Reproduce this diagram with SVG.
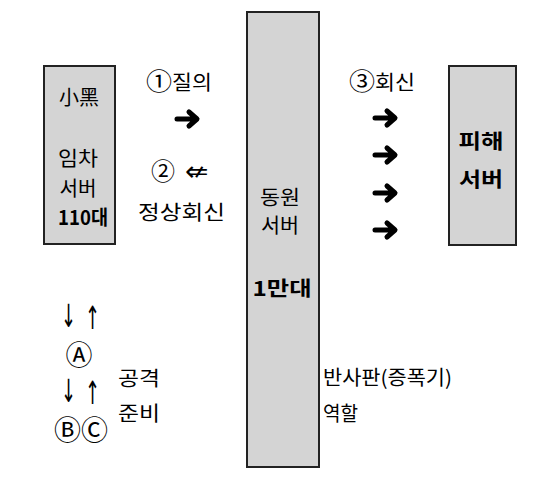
<svg xmlns="http://www.w3.org/2000/svg" width="553" height="486" viewBox="0 0 553 486">
<style>
.box{fill:#d4d4d4;stroke:#222;stroke-width:2}
.t{font-family:"Noto Sans CJK KR","DejaVu Sans",sans-serif;font-size:20px;fill:#000}
.b{font-family:"Noto Sans CJK KR","DejaVu Sans",sans-serif;font-size:20px;font-weight:bold;fill:#000}
.n{font-size:24px}
.s{font-family:"DejaVu Sans",sans-serif;font-size:28px;fill:#000}
.v{font-family:"DejaVu Sans",sans-serif;font-size:20px;fill:#000}
.o{font-family:"Noto Sans CJK KR",sans-serif;font-size:27px;fill:#000}
.c{text-anchor:middle}
.ha{fill:none;stroke:#000;stroke-width:5;stroke-linecap:round;stroke-linejoin:round}
</style>
<defs>
<path id="harrow" class="ha" d="M0,0 H19 M12,-7 L20,0 L12,7"/>
</defs>
<rect width="553" height="486" fill="#fff"/>
<g id="node-rent">
<rect class="box" x="44" y="66" width="71" height="178"/>
<text class="t c" x="79" y="105" textLength="40" lengthAdjust="spacingAndGlyphs">小黑</text>
<text class="t c" x="78" y="166" textLength="40" lengthAdjust="spacingAndGlyphs">임차</text>
<text class="t c" x="78" y="196" textLength="37" lengthAdjust="spacingAndGlyphs">서버</text>
<text class="b c" x="83" y="225" textLength="50" lengthAdjust="spacingAndGlyphs">110대</text>
</g>
<g id="node-mobil">
<rect class="box" x="247" y="12" width="72" height="455"/>
<text class="t c" x="280" y="205" textLength="40" lengthAdjust="spacingAndGlyphs">동원</text>
<text class="t c" x="280" y="233" textLength="38" lengthAdjust="spacingAndGlyphs">서버</text>
<text class="b c" x="282" y="296" textLength="59" lengthAdjust="spacingAndGlyphs">1만대</text>
</g>
<g id="node-victim">
<rect class="box" x="449" y="66" width="67" height="179"/>
<text class="b c" x="481" y="149" textLength="45" lengthAdjust="spacingAndGlyphs">피해</text>
<text class="b c" x="481" y="187" textLength="44" lengthAdjust="spacingAndGlyphs">서버</text>
</g>
<g id="connectors">
<text class="t" x="146" y="90" textLength="66" lengthAdjust="spacingAndGlyphs"><tspan class="n">①</tspan>질의</text>
<use href="#harrow" x="177" y="119"/>
<text class="t n" x="151" y="180">②</text>
<text class="s" x="185" y="181">⇍</text>
<text class="t" x="138" y="220" textLength="87" lengthAdjust="spacingAndGlyphs">정상회신</text>
<text class="t" x="349" y="90" textLength="66" lengthAdjust="spacingAndGlyphs"><tspan class="n">③</tspan>회신</text>
<use href="#harrow" x="375" y="118"/>
<use href="#harrow" x="375" y="155"/>
<use href="#harrow" x="375" y="193"/>
<use href="#harrow" x="375" y="230"/>
</g>
<g id="legend">
<text class="v" transform="translate(61,327) scale(0.9,1.6)">↓</text>
<text class="v" transform="translate(85,329) scale(0.9,1.6)">↑</text>
<text class="o c" x="79" y="365">Ⓐ</text>
<text class="v" transform="translate(61,402) scale(0.9,1.6)">↓</text>
<text class="v" transform="translate(85,404) scale(0.9,1.6)">↑</text>
<text class="o" x="54" y="440">ⒷⒸ</text>
<text class="t" x="118" y="386" textLength="42" lengthAdjust="spacingAndGlyphs">공격</text>
<text class="t" x="118" y="421" textLength="42" lengthAdjust="spacingAndGlyphs">준비</text>
<text class="t" x="323" y="385" textLength="129" lengthAdjust="spacingAndGlyphs">반사판(증폭기)</text>
<text class="t" x="323" y="421" textLength="35" lengthAdjust="spacingAndGlyphs">역할</text>
</g>
</svg>
